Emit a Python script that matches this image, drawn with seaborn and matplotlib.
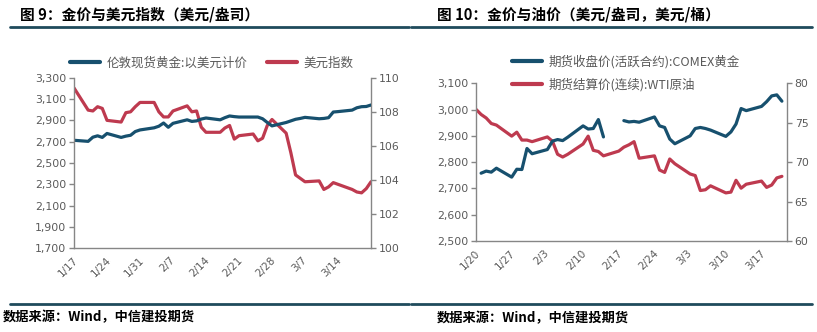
import numpy as np
import pandas as pd
import matplotlib
matplotlib.use("Agg")
import matplotlib.pyplot as plt
import matplotlib.transforms as mtransforms
from matplotlib.lines import Line2D
from matplotlib.ticker import FuncFormatter
import seaborn as sns

# ---------------- data ----------------
# Figure 9: London spot gold (USD/oz) vs. US dollar index, weekdays 2025-01-17 .. 2025-03-21
fig9_dates = pd.bdate_range("2025-01-17", "2025-03-21")
london_gold = [
    2713,
    2703, 2742, 2755, 2740, 2777,
    2740, 2752, 2760, 2795, 2810,
    2830, 2845, 2875, 2835, 2872,
    2905, 2890, 2895, 2912, 2922,
    2905, 2925, 2941, 2935, 2931,
    2931, 2931, 2915, 2880, 2848,
    2880, 2895, 2910, 2918, 2928,
    2915, 2918, 2925, 2978, 2982,
    2996, 3018, 3028, 3030, 3044,
]
dollar_index = [
    109.4,
    108.1, 108.05, 108.3, 108.2, 107.5,
    107.4, 107.95, 108.0, 108.3, 108.55,
    108.55, 108.0, 107.7, 107.7, 108.05,
    108.35, 108.0, 108.05, 107.1, 106.8,
    106.8, 107.05, 107.2, 106.4, 106.6,
    106.7, 106.3, 106.45, 107.2, 107.55,
    106.75, 105.6, 104.3, 104.1, 103.9,
    103.95, 103.45, 103.6, 103.85, 103.75,
    103.45, 103.3, 103.25, 103.5, 103.9,
]

# Figure 10: COMEX gold active contract close vs. WTI continuous settlement, 2025-01-20 .. 2025-03-21
fig10_dates = pd.bdate_range("2025-01-20", "2025-03-21")
comex_gold = [
    np.nan, 2758, 2766, 2762, 2777,
    2743, 2773, 2772, 2852, 2832,
    2848, 2880, 2886, 2882, 2895,
    2938, 2926, 2928, 2962, 2896,
    np.nan, 2958, 2953, 2955, 2952,
    2972, 2938, 2932, 2888, 2870,
    2900, 2928, 2932, 2928, 2922,
    2898, 2915, 2945, 3004, 2996,
    3012, 3030, 3052, 3056, 3032,
]
wti_oil = [
    76.7, 76.05, 75.6, 74.9, 74.7,
    73.3, 73.8, 72.8, 72.8, 72.6,
    73.2, 72.65, 71.0, 70.65, 71.0,
    72.3, 73.3, 71.5, 71.35, 70.8,
    71.4, 71.9, 72.2, 72.6, 70.5,
    70.8, 69.0, 68.7, 70.4, 69.8,
    68.5, 68.3, 66.4, 66.5, 67.0,
    66.1, 66.2, 67.7, 66.7, 67.2,
    67.6, 66.8, 67.1, 68.0, 68.2,
]

fig9_ticks = pd.date_range("2025-01-17", "2025-03-14", freq="7D")
fig10_ticks = pd.date_range("2025-01-20", "2025-03-17", freq="7D")

fig9_gold_ticks = list(range(1700, 3301, 200))
fig9_dxy_ticks = list(range(100, 111, 2))
fig10_gold_ticks = list(range(2500, 3101, 100))
fig10_wti_ticks = list(range(60, 81, 5))

df9 = pd.DataFrame({"date": fig9_dates, "gold": london_gold, "dxy": dollar_index})
df10 = pd.DataFrame({"date": fig10_dates, "gold": comex_gold, "wti": wti_oil})
# the holiday gap in COMEX gold splits that line into separate runs
df10["run"] = df10["gold"].isna().cumsum()

# ---------------- style ----------------
sns.set_style("white")
plt.rcParams["font.family"] = ["Noto Sans CJK SC", "DejaVu Sans"]

BLUE = "#17506E"
RED = "#BE3A4F"
RULE = "#1F4B5C"
AXIS = "#868686"
TXT = "#595959"
LW = 2.3

W, H = 817, 332
fig = plt.figure(figsize=(W / 100, H / 100), dpi=100)


def fx(px):
    return px / W


def fy(py):
    return 1 - py / H


comma = FuncFormatter(lambda v, p: f"{int(round(v)):,}")
plain = FuncFormatter(lambda v, p: f"{int(round(v))}")
mday = FuncFormatter(lambda v, p: f"{matplotlib.dates.num2date(v).month}/{matplotlib.dates.num2date(v).day}")


def style_axes(ax, ax2, ticks, xlim):
    for a in (ax, ax2):
        a.set_facecolor("none")
        a.set_xlabel("")
        a.set_ylabel("")
        a.spines["top"].set_visible(False)
        for s in ("left", "right", "bottom"):
            a.spines[s].set_color(AXIS)
            a.spines[s].set_linewidth(1.0)
        a.tick_params(axis="both", colors=AXIS, labelcolor=TXT, labelsize=7.8,
                      length=3.5, width=1.0, pad=2)
        a.grid(False)
    ax.spines["right"].set_visible(False)
    ax2.spines["left"].set_visible(False)
    ax2.spines["bottom"].set_visible(False)
    ax.tick_params(axis="x", pad=1.5, labelsize=7.5)
    ax.set_xticks(ticks)
    ax.xaxis.set_major_formatter(mday)
    ax.set_xlim(*xlim)
    offset = mtransforms.ScaledTranslation(-6 / 100, 0, fig.dpi_scale_trans)
    for lab in ax.get_xticklabels():
        lab.set_rotation(45)
        lab.set_ha("center")
        lab.set_transform(lab.get_transform() + offset)
    for lab in ax.get_yticklabels() + ax2.get_yticklabels() + ax.get_xticklabels():
        lab.set_family(["DejaVu Sans"])


# ---------------- figure 9 ----------------
ax9 = fig.add_axes([fx(74), fy(248.3), fx(297), 170.6 / H])
sns.lineplot(data=df9, x="date", y="gold", ax=ax9, color=BLUE, linewidth=LW,
             solid_joinstyle="round", solid_capstyle="round")
ax9b = ax9.twinx()
sns.lineplot(data=df9, x="date", y="dxy", ax=ax9b, color=RED, linewidth=LW,
             solid_joinstyle="round", solid_capstyle="round")
ax9.set_ylim(1700, 3300)
ax9.set_yticks(fig9_gold_ticks)
ax9.yaxis.set_major_formatter(comma)
ax9b.set_ylim(100, 110)
ax9b.set_yticks(fig9_dxy_ticks)
ax9b.yaxis.set_major_formatter(plain)
style_axes(ax9, ax9b, fig9_ticks, (pd.Timestamp("2025-01-17"), pd.Timestamp("2025-03-21")))
ax9.set_zorder(ax9b.get_zorder() + 1)

fig.legend(
    handles=[Line2D([], [], color=BLUE, lw=3), Line2D([], [], color=RED, lw=3)],
    labels=["伦敦现货黄金:以美元计价", "美元指数"],
    loc="center left", bbox_to_anchor=(fx(70), fy(63)), ncol=2, frameon=False,
    fontsize=9, labelcolor=TXT, borderpad=0, borderaxespad=0,
    handlelength=2.4, handletextpad=0.5, columnspacing=1.6,
)

# ---------------- figure 10 ----------------
ax10 = fig.add_axes([fx(476), fy(241), fx(311), 157.7 / H])
sns.lineplot(data=df10, x="date", y="gold", units="run", estimator=None, ax=ax10,
             color=BLUE, linewidth=LW, solid_joinstyle="round", solid_capstyle="round")
ax10b = ax10.twinx()
sns.lineplot(data=df10, x="date", y="wti", ax=ax10b, color=RED, linewidth=LW,
             solid_joinstyle="round", solid_capstyle="round")
ax10.set_ylim(2500, 3100)
ax10.set_yticks(fig10_gold_ticks)
ax10.yaxis.set_major_formatter(comma)
ax10b.set_ylim(60, 80)
ax10b.set_yticks(fig10_wti_ticks)
ax10b.yaxis.set_major_formatter(plain)
style_axes(ax10, ax10b, fig10_ticks, (pd.Timestamp("2025-01-20"), pd.Timestamp("2025-03-22")))
ax10.set_zorder(ax10b.get_zorder() + 1)

fig.legend(
    handles=[Line2D([], [], color=BLUE, lw=3), Line2D([], [], color=RED, lw=3)],
    labels=["期货收盘价(活跃合约):COMEX黄金", "期货结算价(连续):WTI原油"],
    loc="upper left", bbox_to_anchor=(fx(512), fy(55)), ncol=1, frameon=False,
    fontsize=9, labelcolor=TXT, borderpad=0, borderaxespad=0,
    handlelength=2.4, handletextpad=0.5, labelspacing=0.75,
)

# ---------------- titles, rules, sources ----------------
fig.text(fx(20), fy(14), "图 9：金价与美元指数（美元/盎司）", fontsize=10.6,
         fontweight="bold", va="center", ha="left", color="black")
fig.text(fx(437), fy(14), "图 10：金价与油价（美元/盎司，美元/桶）", fontsize=10.6,
         fontweight="bold", va="center", ha="left", color="black")
for y in (26.7, 304):
    fig.add_artist(Line2D([fx(10), fx(409)], [fy(y), fy(y)], color=RULE, lw=2.0))
    fig.add_artist(Line2D([fx(411), fx(812)], [fy(y), fy(y)], color=RULE, lw=2.0))
fig.text(fx(3), fy(317), "数据来源：Wind，中信建投期货", fontsize=9.5,
         fontweight="bold", style="italic", va="center", ha="left", color="black")
fig.text(fx(437), fy(318), "数据来源：Wind，中信建投期货", fontsize=9.5,
         fontweight="bold", style="italic", va="center", ha="left", color="black")

fig.savefig("out.png", dpi=100, facecolor="white")
